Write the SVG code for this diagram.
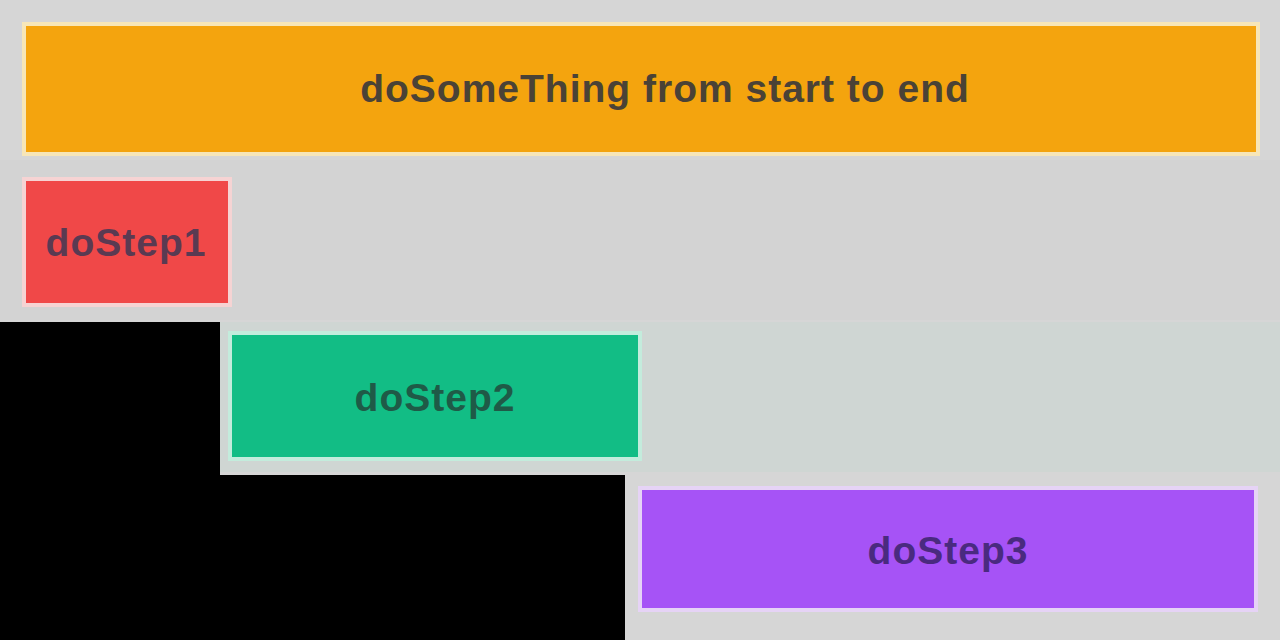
<svg xmlns="http://www.w3.org/2000/svg" width="1280" height="640" viewBox="0 0 1280 640">
<style>
.bar{stroke-width:4}
.lbl{font-family:"Liberation Sans",Arial,sans-serif;font-weight:bold;font-size:39px;letter-spacing:1px;text-anchor:middle;dominant-baseline:central}
</style>
<rect x="0" y="0" width="1280" height="640" fill="#000000"/>
<polygon points="0,0 1280,0 1280,640 625,640 625,475 220,475 220,322 0,322" fill="#d6d6d6"/>
<rect x="0" y="160" width="1280" height="160" fill="#d3d3d3"/>
<rect x="220" y="322" width="1060" height="150" fill="#cfd6d3"/>
<g id="node-root">
<rect class="bar" x="24" y="24" width="1234" height="130" fill="#f4a40e" stroke="#f7e6b8"/>
<text class="lbl" x="665" y="88" fill="#4a4236">doSomeThing from start to end</text>
</g>
<g id="node-step1">
<rect class="bar" x="24" y="179" width="206" height="126" fill="#f04848" stroke="#f6d3d3"/>
<text class="lbl" x="126" y="242" fill="#5a3a52">doStep1</text>
</g>
<g id="node-step2">
<rect class="bar" x="230" y="333" width="410" height="126" fill="#12bd85" stroke="#c3ecdc"/>
<text class="lbl" x="435" y="397" fill="#1f5a47">doStep2</text>
</g>
<g id="node-step3">
<rect class="bar" x="640" y="488" width="616" height="122" fill="#a653f6" stroke="#e6d3f6"/>
<text class="lbl" x="948" y="550" fill="#4a2a80">doStep3</text>
</g>
<g id="connectors"></g>
</svg>
